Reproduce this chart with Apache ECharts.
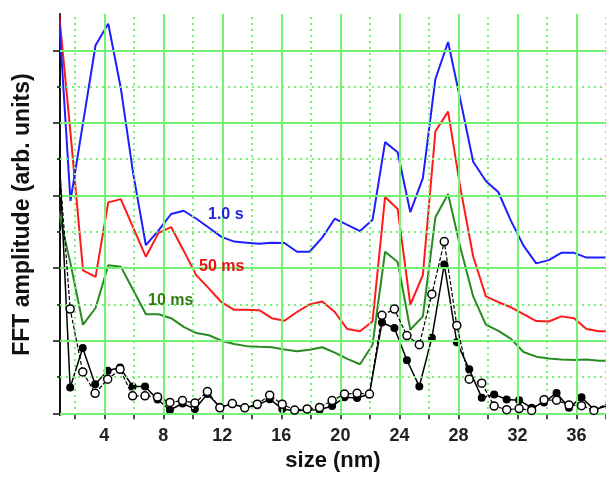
<!DOCTYPE html>
<html>
<head>
<meta charset="utf-8">
<script src="https://cdn.jsdelivr.net/npm/echarts@6/dist/echarts.min.js"></script>
<style>
html, body { margin: 0; padding: 0; background: #fff; }
#chart { width: 606px; height: 477px; }
</style>
</head>
<body>
<div id="chart"></div>
<script>
// size axis of the three coloured curves and of the two dotted curves (nm)
var sizesLines = [0.85, 1.71, 2.56, 3.41, 4.27, 5.12, 5.97, 6.82, 7.68, 8.53, 9.38, 10.24, 11.09, 11.94, 12.80,
  13.65, 14.50, 15.35, 16.21, 17.06, 17.91, 18.77, 19.62, 20.47, 21.33, 22.18, 23.03, 23.88, 24.74, 25.59,
  26.44, 27.30, 28.15, 29.00, 29.86, 30.71, 31.56, 32.41, 33.27, 34.12, 34.97, 35.83, 36.68, 37.53, 38.39];
var sizesDots = [0.85, 1.69, 2.54, 3.38, 4.23, 5.07, 5.92, 6.76, 7.61, 8.45, 9.30, 10.14, 10.99, 11.83, 12.68,
  13.52, 14.37, 15.21, 16.06, 16.90, 17.75, 18.59, 19.44, 20.28, 21.13, 21.97, 22.82, 23.66, 24.51, 25.35,
  26.20, 27.04, 27.89, 28.73, 29.58, 30.42, 31.27, 32.11, 32.96, 33.80, 34.65, 35.49, 36.34, 37.18, 38.03];

// FFT amplitude (arb. units)
var amp1s = [11.45, 5.85, 8.0, 10.14, 10.73, 8.96, 6.58, 4.63, 5.04, 5.49, 5.58, 5.36, 5.11, 4.86, 4.73,
  4.70, 4.67, 4.70, 4.69, 4.45, 4.45, 4.84, 5.36, 5.19, 5.02, 5.33, 7.47, 7.19, 5.54, 6.48,
  9.21, 10.23, 8.6, 6.93, 6.40, 6.09, 5.30, 4.62, 4.13, 4.22, 4.42, 4.42, 4.29, 4.29, 4.29];
var amp50ms = [11.4, 7.73, 3.94, 3.76, 5.81, 5.90, 5.11, 4.31, 4.97, 5.13, 4.48, 3.80, 3.44, 3.06, 2.85,
  2.85, 2.84, 2.62, 2.55, 2.79, 3.0, 3.08, 2.79, 2.32, 2.26, 2.53, 5.96, 5.63, 2.99, 3.81,
  7.77, 8.31, 6.17, 4.32, 3.22, 3.06, 2.92, 2.73, 2.54, 2.53, 2.67, 2.62, 2.32, 2.26, 2.26];
var amp10ms = [5.66, 4.13, 2.44, 2.90, 4.08, 4.04, 3.39, 2.73, 2.73, 2.62, 2.38, 2.21, 2.15, 2.00, 1.91,
  1.85, 1.83, 1.82, 1.76, 1.71, 1.75, 1.82, 1.67, 1.50, 1.35, 1.89, 4.45, 4.17, 2.30, 2.67,
  5.40, 6.04, 4.54, 3.22, 2.44, 2.27, 2.05, 1.69, 1.56, 1.51, 1.48, 1.47, 1.48, 1.45, 1.44];
var ampFilled = [7.95, 0.71, 1.80, 0.80, 1.17, 1.26, 0.74, 0.74, 0.38, 0.09, 0.27, 0.12, 0.53, 0.18, 0.25,
  0.16, 0.22, 0.39, 0.12, 0.07, 0.09, 0.10, 0.20, 0.44, 0.42, 0.53, 2.50, 2.35, 1.46, 0.74,
  2.08, 4.10, 1.96, 1.21, 0.43, 0.52, 0.38, 0.36, 0.15, 0.30, 0.56, 0.15, 0.44, 0.10, 0.20];
var ampOpen = [7.35, 2.87, 1.14, 0.55, 0.94, 1.21, 0.48, 0.48, 0.45, 0.30, 0.35, 0.28, 0.60, 0.15, 0.27,
  0.15, 0.25, 0.50, 0.25, 0.09, 0.12, 0.16, 0.35, 0.53, 0.55, 0.53, 2.70, 2.87, 2.14, 1.89,
  3.28, 4.73, 2.42, 0.94, 0.83, 0.20, 0.10, 0.13, 0.08, 0.37, 0.36, 0.23, 0.21, 0.08, 0.25];

var xLabels = [4, 8, 12, 16, 20, 24, 28, 32, 36];
var xTicks = [2, 4, 6, 8, 10, 12, 14, 16, 18, 20, 22, 24, 26, 28, 30, 32, 34, 36, 38];
var xGridSolid = [4, 8, 12, 16, 20, 24, 28, 32, 36];
var xGridDotted = [2, 6, 10, 14, 18, 22, 26, 30, 34, 38];
var yGridSolid = [0, 2, 4, 6, 8, 10];
var yGridDotted = [1, 3, 5, 7, 9];

function pairs(xs, ys) {
  return ys.map(function (v, i) { return [xs[i], v]; });
}

var FONT = '"Liberation Sans", Arial, sans-serif';
var GREEN = '#74f274';

var gridLines = [];
xGridSolid.forEach(function (v) { gridLines.push({ xAxis: v, lineStyle: { type: 'solid', width: 2, color: GREEN } }); });
xGridDotted.forEach(function (v) { gridLines.push({ xAxis: v, lineStyle: { type: [2, 4], width: 2, color: GREEN } }); });
yGridSolid.forEach(function (v) { gridLines.push({ yAxis: v, lineStyle: { type: 'solid', width: 2, color: GREEN } }); });
yGridDotted.forEach(function (v) { gridLines.push({ yAxis: v, lineStyle: { type: [2, 4], width: 2, color: GREEN } }); });

var myChart = echarts.init(document.getElementById('chart'));
myChart.setOption({
  animation: false,
  backgroundColor: '#fff',
  grid: { left: 60, top: 14, right: 0, bottom: 59 },
  xAxis: [{
    type: 'value',
    min: 1,
    max: 38,
    name: 'size (nm)',
    nameLocation: 'middle',
    nameGap: 30,
    nameTextStyle: { fontFamily: FONT, fontWeight: 'bold', fontSize: 22, color: '#111' },
    axisLine: { lineStyle: { color: '#111', width: 2 } },
    axisTick: { customValues: xTicks, length: 6, lineStyle: { color: '#111', width: 1.5 } },
    axisLabel: { customValues: xLabels, margin: 12, fontFamily: FONT, fontWeight: 'bold', fontSize: 18, color: '#222' },
    splitLine: { show: false }
  }, {
    type: 'value',
    min: 1,
    max: 38,
    position: 'top',
    axisLine: { lineStyle: { color: '#333', width: 2 } },
    axisTick: { show: false },
    axisLabel: { show: false },
    splitLine: { show: false }
  }],
  yAxis: [{
    type: 'value',
    min: -0.05,
    max: 11,
    name: 'FFT amplitude (arb. units)',
    nameLocation: 'middle',
    nameGap: 26,
    nameTextStyle: { fontFamily: FONT, fontWeight: 'bold', fontSize: 23, color: '#111' },
    axisLine: { show: true, lineStyle: { color: '#111', width: 2 } },
    axisTick: { show: true, customValues: [0, 2, 4, 6, 8, 10], length: 7, lineStyle: { color: '#111', width: 1.5 } },
    axisLabel: { show: false },
    splitLine: { show: false }
  }, {
    type: 'value',
    min: -0.05,
    max: 11,
    position: 'left',
    axisLine: { show: false },
    axisTick: { show: true, customValues: [1, 3, 5, 7, 9], length: 3, lineStyle: { color: '#111', width: 1.5 } },
    axisLabel: { show: false },
    splitLine: { show: false }
  }],
  series: [{
    name: 'grid',
    type: 'line',
    data: [],
    z: 1,
    silent: true,
    markLine: {
      silent: true,
      symbol: ['none', 'none'],
      label: { show: false },
      data: gridLines
    }
  }, {
    name: '10 ms',
    type: 'line',
    data: pairs(sizesLines, amp10ms),
    showSymbol: false,
    z: 3,
    lineStyle: { color: '#2a8a22', width: 2 }
  }, {
    name: '50 ms',
    type: 'line',
    data: pairs(sizesLines, amp50ms),
    showSymbol: false,
    z: 3,
    lineStyle: { color: '#ff1a1a', width: 2 }
  }, {
    name: '1.0 s',
    type: 'line',
    data: pairs(sizesLines, amp1s),
    showSymbol: false,
    z: 3,
    lineStyle: { color: '#1e1eff', width: 2 }
  }, {
    name: 'filled',
    type: 'line',
    data: pairs(sizesDots, ampFilled),
    symbol: 'circle',
    symbolSize: 8,
    z: 4,
    itemStyle: { color: '#000' },
    lineStyle: { color: '#000', width: 1.5 }
  }, {
    name: 'open',
    type: 'line',
    data: pairs(sizesDots, ampOpen),
    symbol: 'circle',
    symbolSize: 8,
    z: 5,
    itemStyle: { color: '#fff', borderColor: '#000', borderWidth: 1.5 },
    lineStyle: { color: '#000', width: 1.2, type: [4, 2] }
  }],
  graphic: [
    { type: 'text', x: 208, y: 215, z: 10, style: { text: '1.0 s', fill: '#2323e0', font: 'bold 16px ' + FONT, textVerticalAlign: 'middle' } },
    { type: 'text', x: 199, y: 267, z: 10, style: { text: '50 ms', fill: '#ee1111', font: 'bold 16px ' + FONT, textVerticalAlign: 'middle' } },
    { type: 'text', x: 148, y: 301, z: 10, style: { text: '10 ms', fill: '#2e7d12', font: 'bold 16px ' + FONT, textVerticalAlign: 'middle' } }
  ]
});
</script>
</body>
</html>
